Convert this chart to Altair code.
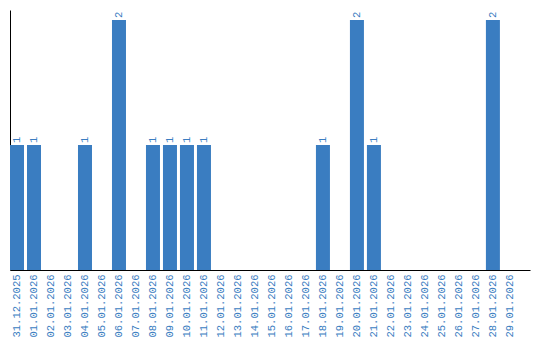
import altair as alt
import pandas as pd

dates = ["31.12.2025", "01.01.2026", "02.01.2026", "03.01.2026", "04.01.2026",
         "05.01.2026", "06.01.2026", "07.01.2026", "08.01.2026", "09.01.2026",
         "10.01.2026", "11.01.2026", "12.01.2026", "13.01.2026", "14.01.2026",
         "15.01.2026", "16.01.2026", "17.01.2026", "18.01.2026", "19.01.2026",
         "20.01.2026", "21.01.2026", "22.01.2026", "23.01.2026", "24.01.2026",
         "25.01.2026", "26.01.2026", "27.01.2026", "28.01.2026", "29.01.2026"]
counts = [1, 1, 0, 0, 1, 0, 2, 0, 1, 1, 1, 1, 0, 0, 0,
          0, 0, 0, 1, 0, 2, 1, 0, 0, 0, 0, 0, 0, 2, 0]

df = pd.DataFrame({"date": dates, "count": counts})
BLUE = "#3a7dc1"

x = alt.X("date:N", sort=dates, title=None,
          scale=alt.Scale(paddingInner=0.176, paddingOuter=0.385, align=0),
          axis=alt.Axis(labelAngle=270, labelColor=BLUE, labelFont="Liberation Mono",
                        labelFontSize=10.5, ticks=False, domainColor="black",
                        domainWidth=1, labelPadding=4, grid=False))
y = alt.Y("count:Q", title=None, scale=alt.Scale(domain=[0, 2.08], nice=False),
          axis=alt.Axis(labels=False, ticks=False, grid=False, domainColor="black",
                        domainWidth=1))

bars = alt.Chart(df).mark_bar(color=BLUE).encode(x=x, y=y)
labels = alt.Chart(df).transform_filter("datum.count > 0").mark_text(
    angle=270, align="left", baseline="middle", dx=2, color=BLUE,
    font="Liberation Mono", fontSize=10.5
).encode(x=x, y=y, text="count:Q")

chart = (bars + labels).properties(
    width=520, height=260,
    padding={"left": 10, "top": 10, "right": 10, "bottom": 70},
    autosize=alt.AutoSizeParams(type="none"),
    background="white",
).configure_view(stroke=None)

chart.save("out.html", embed_options={"renderer": "svg", "actions": False})
